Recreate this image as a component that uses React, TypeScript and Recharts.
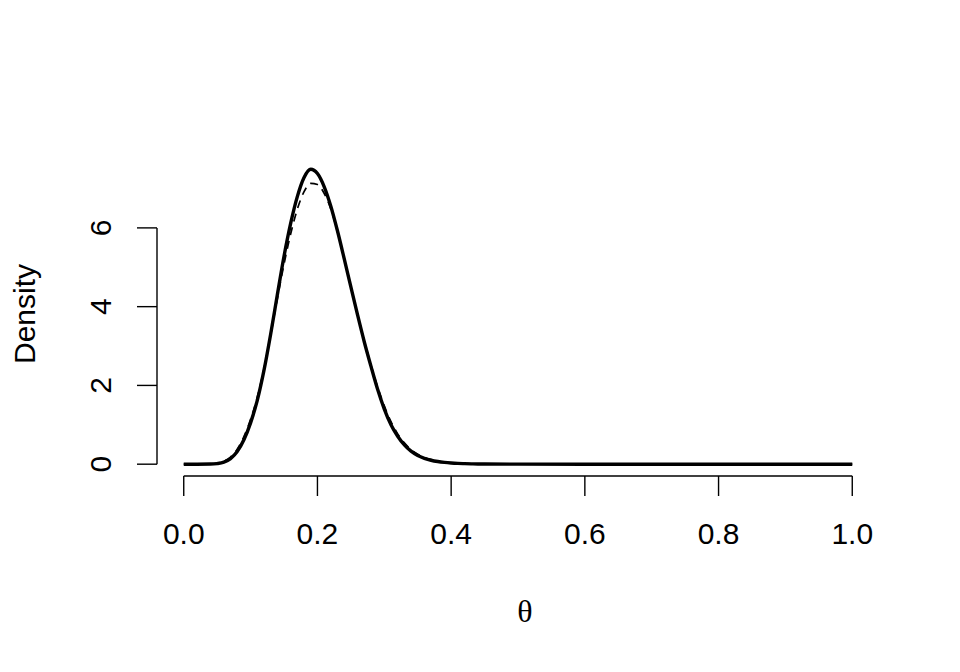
import React from 'react';
import { LineChart, Line, XAxis, YAxis, ReferenceLine } from 'recharts';

// theta grid (denser where the curves move)
const theta = [
  0, 0.02, 0.04, 0.05, 0.06, 0.07, 0.08, 0.09, 0.1, 0.11, 0.12, 0.13, 0.14, 0.15, 0.16, 0.17, 0.18, 0.19,
  0.2, 0.21, 0.22, 0.23, 0.24, 0.25, 0.26, 0.27, 0.28, 0.29, 0.3, 0.31, 0.32, 0.33, 0.34, 0.35, 0.36, 0.37,
  0.38, 0.39, 0.4, 0.41, 0.42, 0.43, 0.44, 0.45, 0.5, 0.6, 0.7, 0.8, 0.9, 1.0,
];

// solid (thick) density
const densitySolid = [
  0, 0, 0.003, 0.015, 0.05, 0.14, 0.32, 0.62, 1.05, 1.62, 2.38, 3.3, 4.3, 5.28, 6.12, 6.8, 7.28, 7.49,
  7.38, 7.05, 6.55, 5.92, 5.22, 4.5, 3.79, 3.11, 2.49, 1.9, 1.4, 1.0, 0.71, 0.49, 0.33, 0.22, 0.15, 0.1,
  0.067, 0.045, 0.03, 0.02, 0.014, 0.009, 0.006, 0.004, 0.0005, 0, 0, 0, 0, 0,
];

// dashed density
const densityDashed = [
  0, 0.001, 0.008, 0.028, 0.075, 0.18, 0.38, 0.7, 1.14, 1.7, 2.42, 3.28, 4.2, 5.08, 5.85, 6.48, 6.92, 7.13,
  7.1, 6.88, 6.48, 5.9, 5.22, 4.5, 3.8, 3.13, 2.52, 1.96, 1.48, 1.08, 0.77, 0.54, 0.37, 0.25, 0.17, 0.115,
  0.078, 0.052, 0.035, 0.023, 0.015, 0.01, 0.007, 0.005, 0.001, 0, 0, 0, 0, 0,
];

const xTicks = [0, 0.2, 0.4, 0.6, 0.8, 1.0];
const yTicks = [0, 2, 4, 6];

const data = theta.map((t, i) => ({ theta: t, solid: densitySolid[i], dashed: densityDashed[i] }));

const FONT = '"Liberation Sans", Arial, Helvetica, sans-serif';

const XTick = (props: any) => {
  const { x, y, payload } = props;
  return (
    <text x={x} y={y + 48} textAnchor="middle" fontSize={30} fontFamily={FONT} fill="#000">
      {payload.value.toFixed(1)}
    </text>
  );
};

const YTick = (props: any) => {
  const { y, payload } = props;
  return (
    <text
      transform={`translate(110.5,${y}) rotate(-90)`}
      textAnchor="middle"
      fontSize={30}
      fontFamily={FONT}
      fill="#000"
    >
      {payload.value}
    </text>
  );
};

export default function App() {
  return (
    <div style={{ position: 'fixed', left: 0, top: 0, width: 960, height: 672, background: '#fff' }}>
      <LineChart width={960} height={672} data={data} margin={{ top: 157, right: 81, bottom: 0, left: 0 }}>
        <XAxis
          dataKey="theta"
          type="number"
          domain={[-0.04, 1.04]}
          ticks={xTicks}
          allowDataOverflow
          axisLine={false}
          tickLine={{ stroke: '#000', strokeWidth: 1.4 }}
          tickSize={20}
          tickMargin={0}
          height={196}
          tick={<XTick />}
        />
        <YAxis
          type="number"
          domain={[-0.3, 7.8]}
          ticks={yTicks}
          allowDataOverflow
          axisLine={false}
          tickLine={{ stroke: '#000', strokeWidth: 1.4 }}
          tickSize={20}
          tickMargin={0}
          width={157}
          tick={<YTick />}
        />
        <ReferenceLine
          segment={[{ x: 0, y: -0.3 }, { x: 1, y: -0.3 }]}
          stroke="#000"
          strokeWidth={1.4}
          ifOverflow="visible"
        />
        <ReferenceLine
          segment={[{ x: -0.04, y: 0 }, { x: -0.04, y: 6 }]}
          stroke="#000"
          strokeWidth={1.4}
          ifOverflow="visible"
        />
        <Line
          dataKey="solid"
          type="monotone"
          stroke="#000"
          strokeWidth={3.4}
          dot={false}
          activeDot={false}
          isAnimationActive={false}
        />
        <Line
          dataKey="dashed"
          type="monotone"
          stroke="#000"
          strokeWidth={1.7}
          strokeDasharray="8 6"
          dot={false}
          activeDot={false}
          isAnimationActive={false}
        />
      </LineChart>
      <svg width={960} height={672} style={{ position: 'absolute', left: 0, top: 0, pointerEvents: 'none' }}>
        <text
          transform="translate(35,314) rotate(-90)"
          textAnchor="middle"
          fontSize={30}
          fontFamily={FONT}
          fill="#000"
        >
          Density
        </text>
        <text x={525} y={622} textAnchor="middle" fontSize={32} fontFamily='"Liberation Serif", "DejaVu Serif", serif' fill="#000">
          θ
        </text>
      </svg>
    </div>
  );
}
